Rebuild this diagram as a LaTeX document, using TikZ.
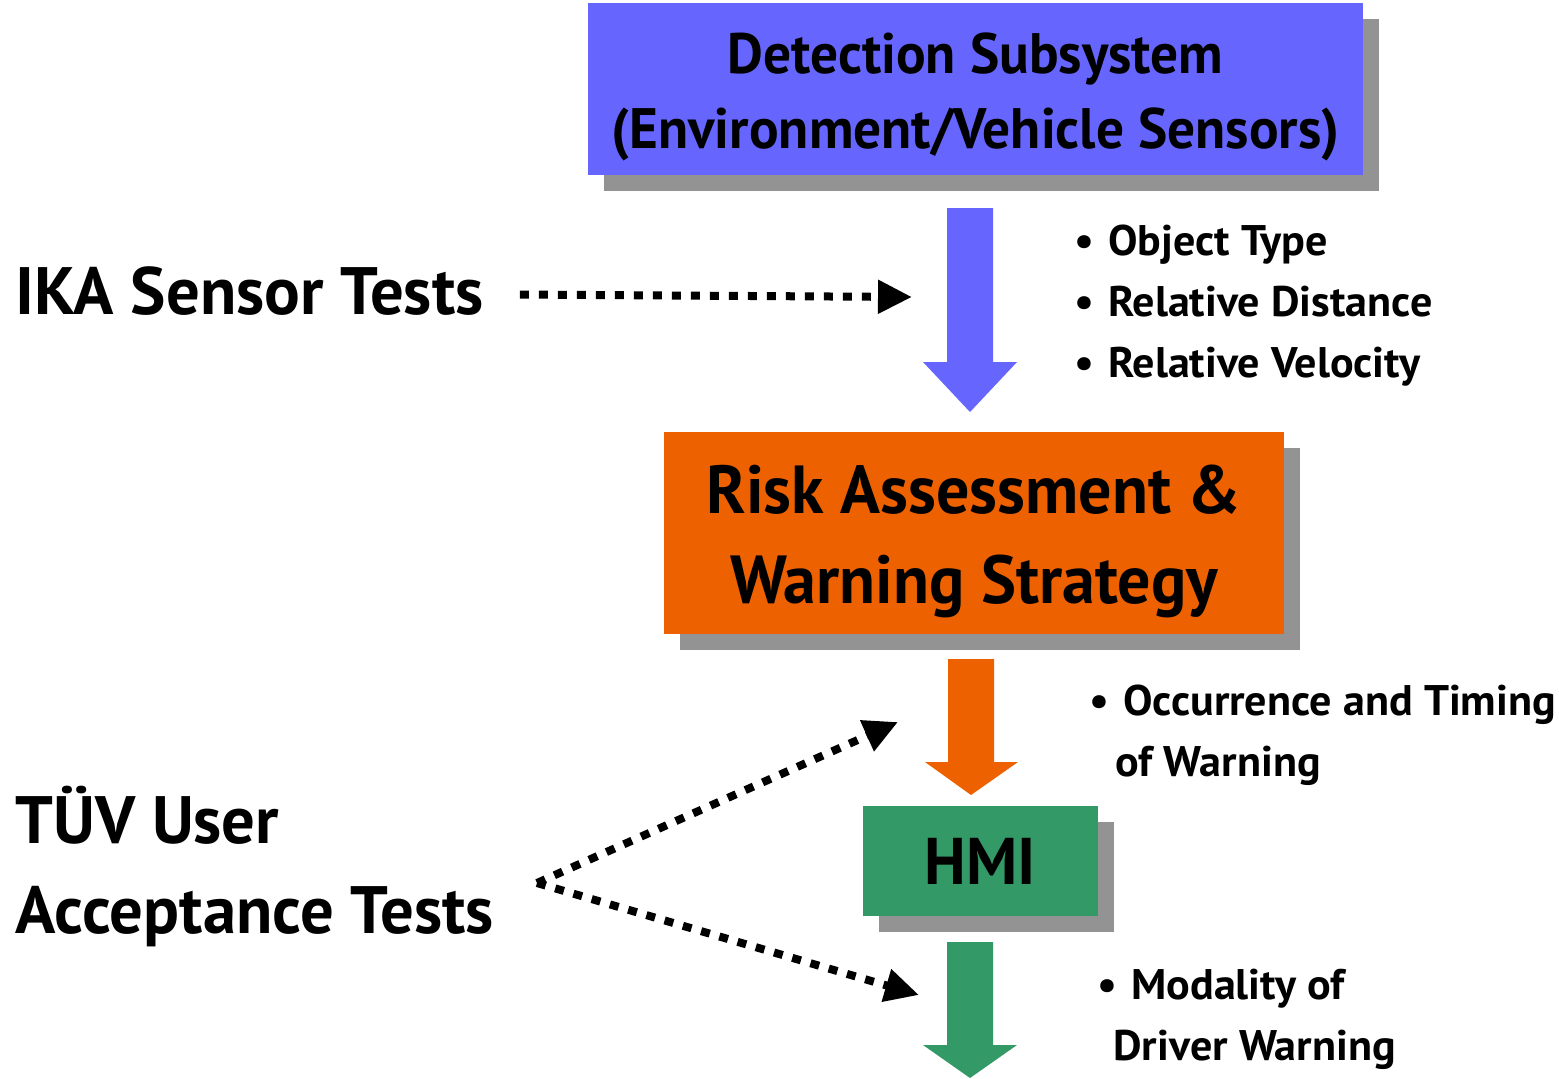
\documentclass[tikz,border=0pt]{standalone}
\usepackage{fontspec}
\setmainfont{PT Sans}
\newfontfamily\boxfont{PT Sans}[FakeStretch=0.97]
\newfontfamily\sidefont{PT Sans}[FakeStretch=0.995]
\newfontfamily\notefont{PT Sans}[FakeStretch=1.03]
\usetikzlibrary{arrows.meta,shadows}

\definecolor{detblue}{HTML}{6666FF}
\definecolor{riskorange}{HTML}{EE6100}
\definecolor{hmigreen}{HTML}{339966}
\definecolor{shadegray}{HTML}{939393}

\begin{document}
\begin{tikzpicture}[x=0.5pt,y=-0.5pt,
  stage/.style={inner sep=0pt,
    drop shadow={shadow xshift=8pt,shadow yshift=-8pt,fill=shadegray,opacity=1}},
  stagetext/.style={inner sep=0pt, align=center},
  biglabel/.style={inner sep=0pt, anchor=base west, align=left,
    font=\sidefont\bfseries\fontsize{33.5}{45}\selectfont},
  bullet/.style={inner sep=0pt, anchor=base west, align=left,
    font=\notefont\bfseries\fontsize{21.4}{30.5}\selectfont},
  dotarrow/.style={line width=4pt, dash pattern=on 4.5pt off 5pt,
    -{Triangle[length=17pt,width=16pt]}},
]
\useasboundingbox (0,0) rectangle (1559,1078);

% processing chain
\node[stage, fill=detblue, minimum width=387.5pt, minimum height=86pt,
  label={[stagetext, yshift=-4pt, font=\boxfont\bfseries\fontsize{28.5}{37.5}\selectfont]
    center:Detection Subsystem\\(Environment/Vehicle Sensors)}] (det) at (975.5,89) {};
\node[stage, fill=riskorange, minimum width=310pt, minimum height=101pt,
  label={[stagetext, yshift=-4pt, font=\boxfont\bfseries\fontsize{34}{45}\selectfont]
    center:Risk Assessment \&\\Warning Strategy}] (risk) at (974,533) {};
\node[stage, fill=hmigreen, minimum width=117.5pt, minimum height=55pt,
  label={[stagetext, font=\boxfont\bfseries\fontsize{33}{40}\selectfont]
    center:HMI}] (hmi) at (980.5,861) {};

% block arrows between the stages
\fill[detblue] (947,208) -- (993,208) -- (993,362) -- (1017,362) -- (970,412)
  -- (923,362) -- (947,362) -- cycle;
\fill[riskorange] (948,659) -- (994,659) -- (994,762) -- (1018,762) -- (971,795)
  -- (925,762) -- (948,762) -- cycle;
\fill[hmigreen] (947,942) -- (993,942) -- (993,1045) -- (1017,1045) -- (970,1078)
  -- (923,1045) -- (947,1045) -- cycle;

% signals passed along the chain
\node[bullet] (sig1) at (1074,377)
  {•\hspace{7pt}Object Type\\•\hspace{7pt}Relative Distance\\•\hspace{7pt}Relative Velocity};
\node[bullet] (sig2) at (1089,776)
  {•\hspace{7pt}Occurrence and Timing\\\hspace{13pt}of Warning};
\node[bullet] (sig3) at (1097,1060)
  {•\hspace{7pt}Modality of\\\hspace{8pt}Driver Warning};

% test activities
\node[biglabel] (ika) at (15,314) {IKA Sensor Tests};
\node[biglabel] (tuv) at (15,933) {TÜV User\\Acceptance Tests};

\coordinate (ikaend) at (912,297);
\coordinate (tuvout) at (537,883);
\coordinate (occend) at (898,722);
\coordinate (modend) at (919,995);

\draw[dotarrow] ([xshift=18pt,yshift=-2pt]ika.east) -- (ikaend);
\draw[dotarrow] (tuvout) -- (occend);
\draw[dotarrow] (tuvout) -- (modend);
\end{tikzpicture}
\end{document}
